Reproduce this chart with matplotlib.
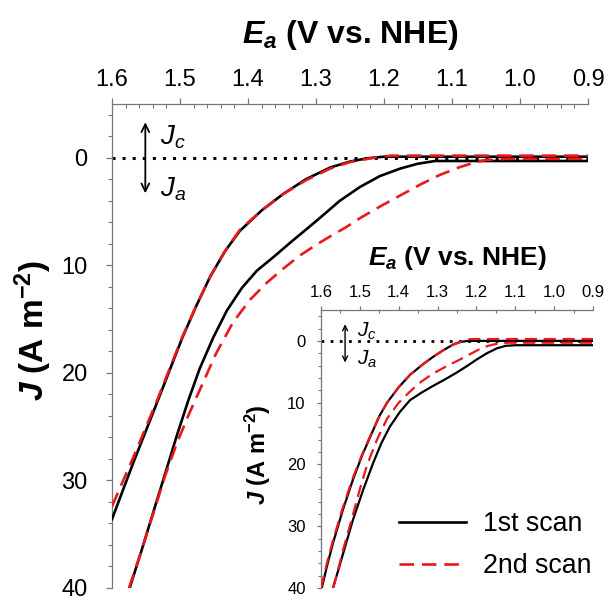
import matplotlib
matplotlib.use("Agg")
import matplotlib.pyplot as plt
from matplotlib.ticker import MultipleLocator
from matplotlib.lines import Line2D

plt.rcParams['font.family'] = ['Liberation Sans', 'DejaVu Sans']
plt.rcParams['mathtext.fontset'] = 'custom'
plt.rcParams['mathtext.rm'] = 'Liberation Sans:bold'
plt.rcParams['mathtext.bf'] = 'Liberation Sans:bold'
plt.rcParams['mathtext.it'] = 'Liberation Sans:bold:italic'
plt.rcParams['mathtext.sf'] = 'Liberation Sans:italic'

# ---------------- data: main panel ----------------
main_blackA_E = [1.600, 1.569, 1.534, 1.497, 1.477, 1.456, 1.434, 1.412, 1.380, 1.349, 1.315, 1.279, 1.250, 1.225, 1.20, 1.10, 1.00, 0.90]
main_blackA_J = [33.6, 28.4, 22.8, 16.8, 13.9, 11.1, 8.7, 6.8, 4.9, 3.4, 2.0, 0.9, 0.35, 0.05, -0.1, -0.1, -0.1, -0.1]
main_redA_E = [1.600, 1.569, 1.534, 1.497, 1.477, 1.456, 1.434, 1.412, 1.380, 1.349, 1.315, 1.279, 1.250, 1.215, 1.19, 1.10, 1.00, 0.90]
main_redA_J = [32.4, 27.9, 22.6, 16.7, 13.9, 11.1, 8.7, 6.7, 4.9, 3.4, 2.1, 1.0, 0.4, 0.0, -0.2, -0.2, -0.2, -0.2]
main_blackB_E = [1.574, 1.557, 1.540, 1.522, 1.505, 1.488, 1.471, 1.451, 1.431, 1.409, 1.387, 1.362, 1.338, 1.300, 1.265, 1.235, 1.206, 1.176, 1.150, 1.125, 1.00, 0.90]
main_blackB_J = [40.0, 36.6, 33.1, 29.4, 25.9, 22.6, 19.6, 16.7, 14.2, 12.1, 10.5, 9.2, 7.9, 5.9, 4.0, 2.7, 1.7, 1.0, 0.55, 0.3, 0.3, 0.3]
main_redB_E = [1.575, 1.557, 1.540, 1.522, 1.505, 1.488, 1.471, 1.447, 1.422, 1.397, 1.372, 1.348, 1.324, 1.300, 1.279, 1.257, 1.235, 1.205, 1.176, 1.147, 1.118, 1.090, 1.070, 1.050, 1.020, 0.90]
main_redB_J = [40.0, 36.6, 33.2, 29.6, 26.6, 24.0, 21.6, 18.2, 15.3, 13.2, 11.6, 10.3, 9.1, 8.1, 7.3, 6.5, 5.6, 4.5, 3.5, 2.5, 1.6, 0.9, 0.5, 0.2, 0.1, 0.1]

# ---------------- data: inset ----------------
ins_blackA_E = [1.598, 1.584, 1.569, 1.544, 1.518, 1.494, 1.469, 1.450, 1.430, 1.400, 1.371, 1.340, 1.312, 1.285, 1.260, 1.240, 1.220, 0.90]
ins_blackA_J = [40.0, 36.3, 32.7, 27.4, 22.5, 18.5, 14.9, 12.2, 10.0, 7.5, 5.5, 3.9, 2.6, 1.5, 0.6, 0.15, 0.0, 0.0]
ins_redA_E = [1.600, 1.586, 1.571, 1.546, 1.520, 1.495, 1.470, 1.450, 1.430, 1.400, 1.371, 1.340, 1.312, 1.285, 1.260, 1.235, 1.215, 0.90]
ins_redA_J = [40.0, 36.3, 32.7, 27.4, 22.5, 18.5, 14.9, 12.2, 10.0, 7.5, 5.5, 3.9, 2.6, 1.5, 0.6, 0.0, -0.3, -0.3]
ins_blackB_E = [1.569, 1.556, 1.543, 1.518, 1.492, 1.466, 1.445, 1.423, 1.397, 1.371, 1.342, 1.312, 1.280, 1.250, 1.225, 1.199, 1.173, 1.147, 1.125, 1.100, 0.90]
ins_blackB_J = [40.0, 37.2, 34.4, 29.0, 24.2, 19.8, 16.6, 13.9, 11.5, 9.6, 8.4, 7.3, 6.2, 5.1, 4.1, 3.0, 2.0, 1.2, 0.8, 0.7, 0.7]
ins_redB_E = [1.569, 1.556, 1.543, 1.518, 1.500, 1.482, 1.456, 1.430, 1.400, 1.371, 1.342, 1.312, 1.277, 1.242, 1.215, 1.191, 1.170, 1.150, 1.120, 0.90]
ins_redB_J = [40.0, 37.0, 33.8, 28.2, 24.0, 20.2, 16.0, 12.6, 10.0, 8.2, 6.6, 5.3, 4.1, 3.0, 2.1, 1.3, 0.8, 0.5, 0.3, 0.3]

legend_labels = ['1st scan', '2nd scan']
xtick_vals = [1.6, 1.5, 1.4, 1.3, 1.2, 1.1, 1.0, 0.9]
xtick_labels = ['1.6', '1.5', '1.4', '1.3', '1.2', '1.1', '1.0', '0.9']
ytick_vals = [0, 10, 20, 30, 40]
xlim = (1.6, 0.9)
ylim = (40, -5)

RED = '#e8191c'
DASH = (0, (5.5, 3.0))
SPINE = '#777777'

fig = plt.figure(figsize=(6.09, 5.97), dpi=100)

def style_axes(ax, xmin, lab_size, pad_x, pad_y, tick_len):
    ax.set_xlim(*xlim)
    ax.set_ylim(*ylim)
    ax.xaxis.tick_top()
    ax.xaxis.set_minor_locator(MultipleLocator(xmin))
    ax.yaxis.set_minor_locator(MultipleLocator(2))
    ax.set_xticks(xtick_vals)
    ax.set_xticklabels(xtick_labels)
    ax.set_yticks(ytick_vals)
    for s in ['right', 'bottom']:
        ax.spines[s].set_visible(False)
    for s in ['top', 'left']:
        ax.spines[s].set_color(SPINE)
        ax.spines[s].set_linewidth(0.9)
    ax.tick_params(axis='x', which='major', direction='out', length=tick_len, width=0.9,
                   color=SPINE, labelsize=lab_size, pad=pad_x, top=True, bottom=False)
    ax.tick_params(axis='x', which='minor', direction='in', length=tick_len * 0.7, width=0.8,
                   color=SPINE, top=True, bottom=False)
    ax.tick_params(axis='y', which='major', direction='out', length=tick_len, width=0.9,
                   color=SPINE, labelsize=lab_size, pad=pad_y)
    ax.tick_params(axis='y', which='minor', direction='out', length=tick_len * 0.7, width=0.8,
                   color=SPINE)

# ---------------- main axes ----------------
ax = fig.add_axes([112 / 609, 1 - 588 / 597, (588 - 112) / 609, (588 - 104) / 597])
style_axes(ax, 0.02, 17, 5.5, 13.5, 4)
ax.axhline(0, color='black', lw=2.2, ls=(0, (1, 2.3)), zorder=1)
ax.plot(main_blackA_E, main_blackA_J, color='black', lw=1.9, zorder=3)
ax.plot(main_redA_E, main_redA_J, color=RED, lw=1.9, ls=DASH, zorder=4)
ax.plot(main_blackB_E, main_blackB_J, color='black', lw=1.9, zorder=3)
ax.plot(main_redB_E, main_redB_J, color=RED, lw=1.9, ls=DASH, zorder=4)

ax.annotate('', xy=(1.551, -3.3), xytext=(1.551, 3.3),
            arrowprops=dict(arrowstyle='<->', lw=1.3, color='black', mutation_scale=14,
                            shrinkA=0, shrinkB=0))
ax.text(1.529, -1.9, r'$\mathsf{J_c}$', fontsize=20, va='center', ha='left')
ax.text(1.529, 2.9, r'$\mathsf{J_a}$', fontsize=20, va='center', ha='left')

fig.text(350 / 609, 1 - 35 / 597, r'$E_a$ (V vs. NHE)', fontsize=23, fontweight='bold',
         ha='center', va='center')
fig.text(33 / 609, 1 - 330 / 597, r'$J$ (A m$^{-2}$)', fontsize=24, fontweight='bold',
         ha='center', va='center', rotation=90)

# ---------------- inset ----------------
ai = fig.add_axes([321 / 609, 1 - 588 / 597, (593 - 321) / 609, (588 - 310) / 597])
ai.patch.set_facecolor('white')
style_axes(ai, 0.05, 12, 4.5, 8, 3)
ai.axhline(0, color='black', lw=2.0, ls=(0, (1, 2.3)), zorder=1)
ai.plot(ins_blackA_E, ins_blackA_J, color='black', lw=1.6, zorder=3)
ai.plot(ins_redA_E, ins_redA_J, color=RED, lw=1.6, ls=DASH, zorder=4)
ai.plot(ins_blackB_E, ins_blackB_J, color='black', lw=1.6, zorder=3)
ai.plot(ins_redB_E, ins_redB_J, color=RED, lw=1.6, ls=DASH, zorder=4)

ai.annotate('', xy=(1.538, -2.7), xytext=(1.538, 3.5),
            arrowprops=dict(arrowstyle='<->', lw=1.0, color='black', mutation_scale=9,
                            shrinkA=0, shrinkB=0))
ai.text(1.508, -1.6, r'$\mathsf{J_c}$', fontsize=15, va='center', ha='left')
ai.text(1.508, 3.0, r'$\mathsf{J_a}$', fontsize=15, va='center', ha='left')

fig.text(457 / 609, 1 - 258 / 597, r'$E_a$ (V vs. NHE)', fontsize=19, fontweight='bold',
         ha='center', va='center')
fig.text(258 / 609, 1 - 455 / 597, r'$J$ (A m$^{-2}$)', fontsize=17, fontweight='bold',
         ha='center', va='center', rotation=90)

handles = [Line2D([], [], color='black', lw=1.9),
           Line2D([], [], color=RED, lw=1.9, ls=DASH)]
fig.legend(handles, legend_labels, loc='upper left',
           bbox_to_anchor=(399 / 609, 1 - 511 / 597), bbox_transform=fig.transFigure,
           frameon=False, fontsize=19.3, handlelength=2.5, handletextpad=0.65,
           labelspacing=0.6, borderpad=0, borderaxespad=0)

fig.savefig('out.png', dpi=100)
